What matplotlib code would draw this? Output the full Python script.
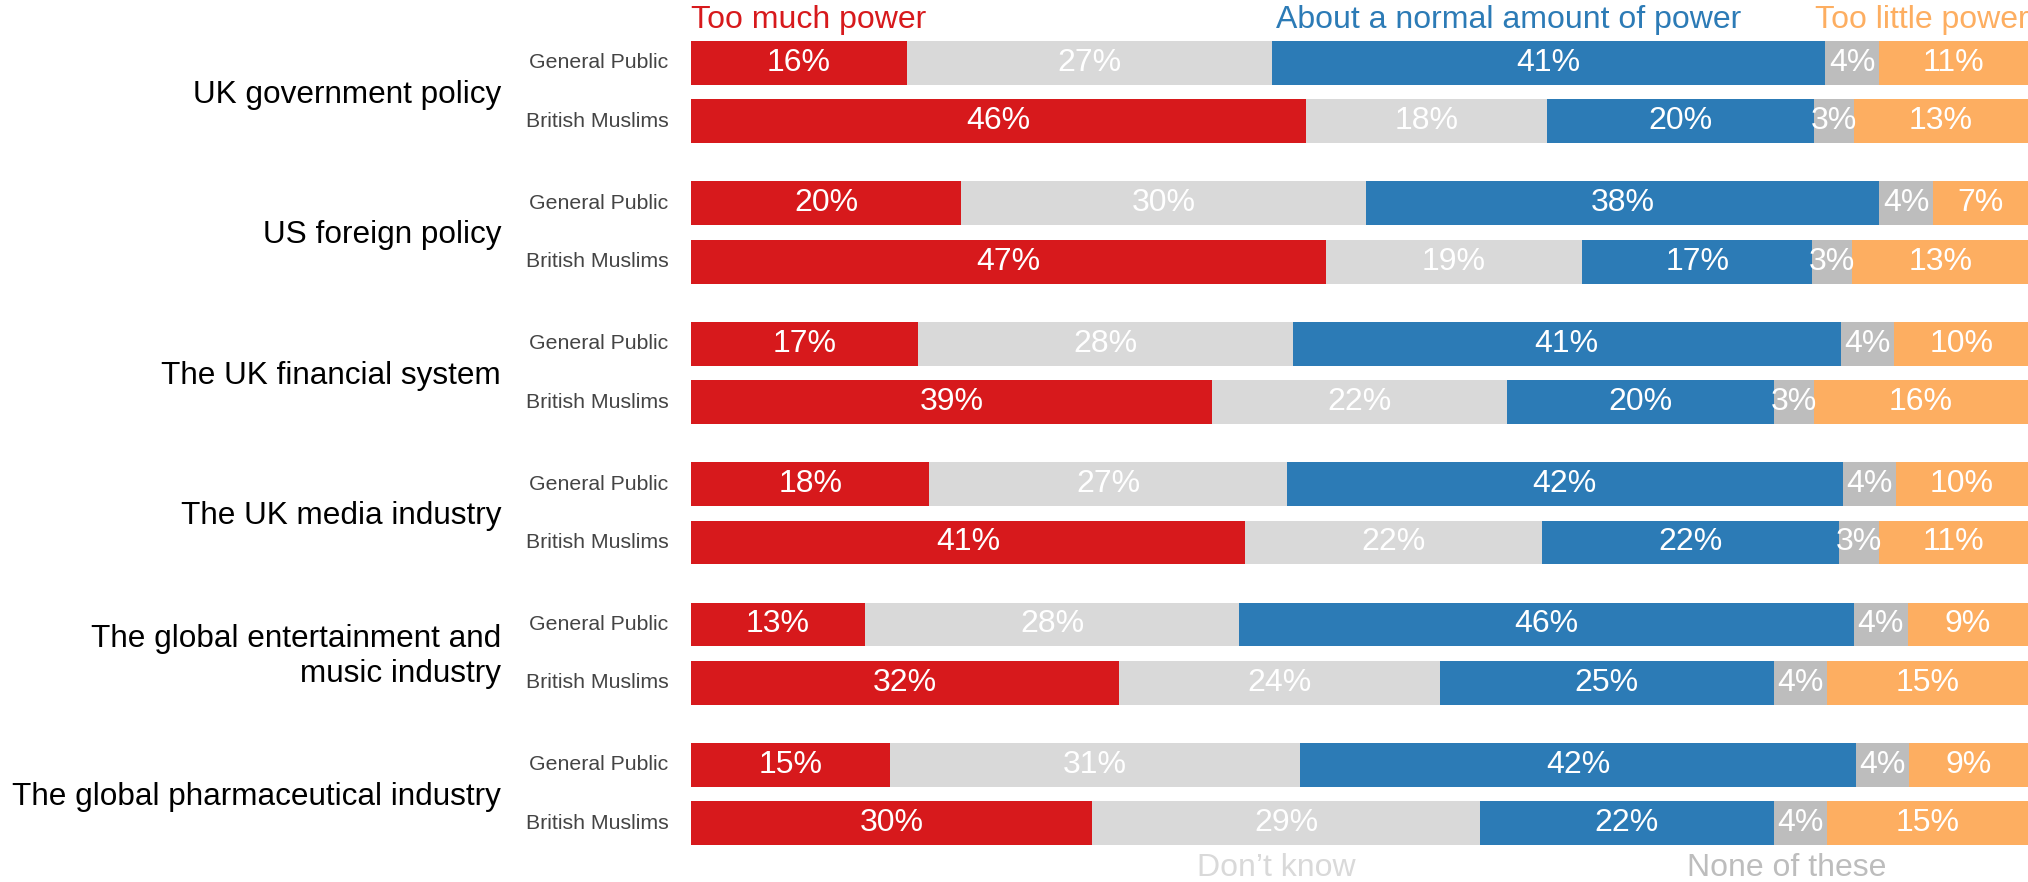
import numpy as np
import matplotlib
matplotlib.use("Agg")
import matplotlib.pyplot as plt

plt.rcParams['font.family'] = ['Liberation Sans', 'DejaVu Sans']

# Data
categories = ["UK government policy", "US foreign policy", "The UK financial system",
              "The UK media industry", "The global entertainment and\nmusic industry",
              "The global pharmaceutical industry"]
groups = ["General Public", "British Muslims"]
answers = ["Too much power", "Don\u2019t know", "About a normal amount of power",
           "None of these", "Too little power"]

too_much_gp = [16, 20, 17, 18, 13, 15]
too_much_bm = [46, 47, 39, 41, 32, 30]
dont_know_gp = [27, 30, 28, 27, 28, 31]
dont_know_bm = [18, 19, 22, 22, 24, 29]
normal_gp = [41, 38, 41, 42, 46, 42]
normal_bm = [20, 17, 20, 22, 25, 22]
none_gp = [4, 4, 4, 4, 4, 4]
none_bm = [3, 3, 3, 3, 4, 4]
too_little_gp = [11, 7, 10, 10, 9, 9]
too_little_bm = [13, 13, 16, 11, 15, 15]

colors = ['#d7191c', '#d9d9d9', '#2c7bb6', '#bdbdbd', '#fdae61']

gp = np.array([too_much_gp, dont_know_gp, normal_gp, none_gp, too_little_gp], dtype=float).T
bm = np.array([too_much_bm, dont_know_bm, normal_bm, none_bm, too_little_bm], dtype=float).T

W, H = 2028, 882
fig = plt.figure(figsize=(W / 100, H / 100), dpi=100)
left_px = 691
ax = fig.add_axes([left_px / W, 0, 1 - left_px / W, 1])

# y layout in units of one group pitch (140.4 px)
pitch = 140.4
y0 = 92.1
ax.set_ylim((H - y0) / pitch, -y0 / pitch)
ax.set_xlim(0, 100)
bar_h = 43.7 / pitch
off = 29.2 / pitch

for i, cat in enumerate(categories):
    for row, ypos in ((gp[i], i - off), (bm[i], i + off)):
        share = row / row.sum() * 100
        start = 0
        for k in range(len(row)):
            ax.barh(ypos, share[k], left=start, height=bar_h, color=colors[k], linewidth=0)
            ax.text(start + share[k] / 2, ypos, f"{int(row[k])}%", ha='center', va='center',
                    color='white', fontsize=23)
            start += share[k]
    ax.text(-1.7, i - off, groups[0], ha='right', va='center', fontsize=15.3, color='#444444')
    ax.text(-1.7, i + off, groups[1], ha='right', va='center', fontsize=15.3, color='#444444')
    ax.text(-14.2, i + 0.02, cat, ha='right', va='center', fontsize=22.7, color='black',
            linespacing=1.2)

# answer labels above / below the bars
top_y = (28 - y0) / pitch
bot_y = (876 - y0) / pitch
ax.text(0, top_y, answers[0], color=colors[0], fontsize=23, ha='left', va='baseline')
ax.text(43.75, top_y, answers[2], color=colors[2], fontsize=23, ha='left', va='baseline')
ax.text(84.1, top_y, answers[4], color=colors[4], fontsize=23, ha='left', va='baseline', clip_on=False)
ax.text(37.85, bot_y, answers[1], color=colors[1], fontsize=23, ha='left', va='baseline')
ax.text(74.5, bot_y, answers[3], color=colors[3], fontsize=23, ha='left', va='baseline')

ax.axis('off')
fig.savefig('out.png', dpi=100)
